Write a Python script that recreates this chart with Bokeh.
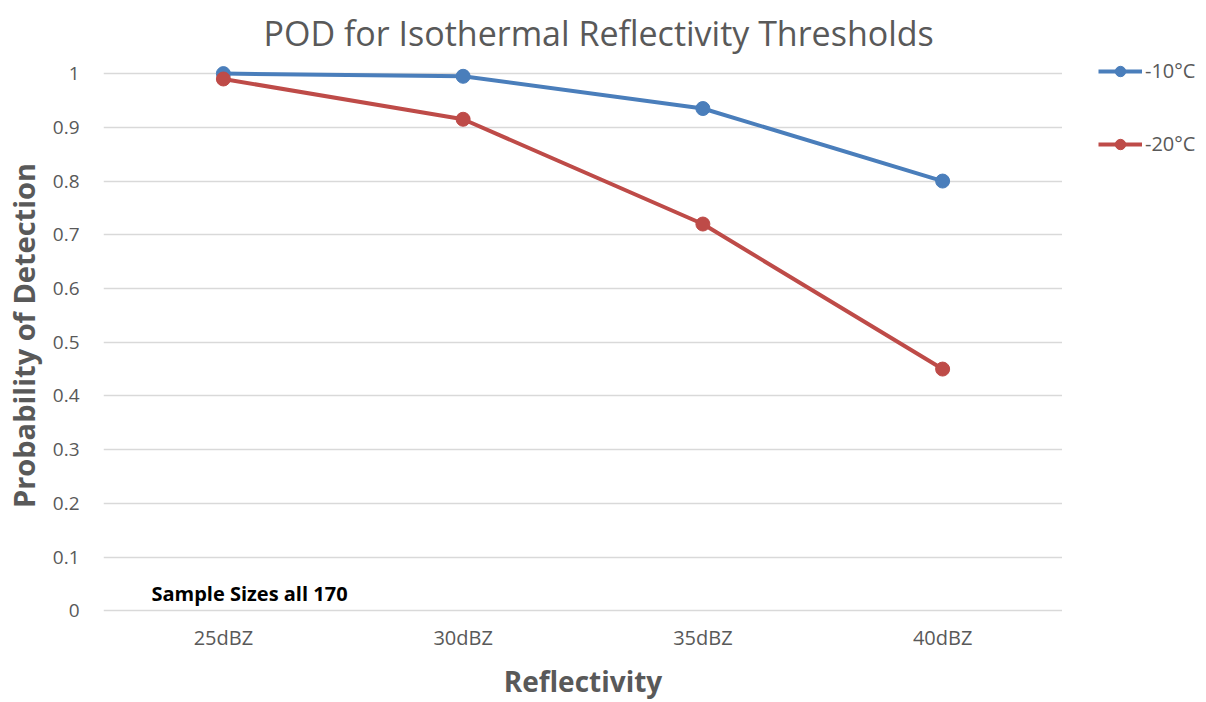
from bokeh.plotting import figure
from bokeh.layouts import row
from bokeh.models import FactorRange, Range1d, Legend, LegendItem, Label, FixedTicker
from bokeh.embed import file_html
from bokeh.resources import INLINE

categories = ["25dBZ", "30dBZ", "35dBZ", "40dBZ"]
pod_minus10 = [1.0, 0.995, 0.935, 0.80]
pod_minus20 = [0.99, 0.915, 0.72, 0.45]
series_names = ["-10°C", "-20°C"]
y_ticks = [0, 0.1, 0.2, 0.3, 0.4, 0.5, 0.6, 0.7, 0.8, 0.9, 1.0]

FONT = "Open Sans"
GRAY = "#595959"
BLUE = "#4A7EBB"
RED = "#BE4B48"

p = figure(width=1062, height=702, output_backend="svg", toolbar_location=None,
           x_range=FactorRange(*categories, range_padding=0),
           y_range=Range1d(-0.005, 1.03),
           min_border_left=102, min_border_right=0, min_border_top=57, min_border_bottom=89)
p.outline_line_color = None

p.title.text = "POD for Isothermal Reflectivity Thresholds"
p.title.align = "left"
p.title.offset = 160
p.title.standoff = 0
p.title.vertical_align = "top"
p.title.text_font = FONT
p.title.text_font_size = "34px"
p.title.text_font_style = "normal"
p.title.text_color = GRAY

p.xgrid.grid_line_color = None
p.ygrid.grid_line_color = "#D9D9D9"
p.ygrid.grid_line_width = 1.5
p.yaxis.ticker = FixedTicker(ticks=y_ticks)
p.yaxis.major_label_overrides = {0: "0", 1.0: "1"}
for ax in (p.xaxis[0], p.yaxis[0]):
    ax.axis_line_color = None
    ax.major_tick_line_color = None
    ax.minor_tick_line_color = None
    ax.major_tick_out = 0
    ax.major_tick_in = 0
    ax.minor_tick_out = 0
    ax.major_label_text_font = FONT
    ax.major_label_text_font_size = "19px"
    ax.major_label_text_color = GRAY
    ax.axis_label_text_font = FONT
    ax.axis_label_text_font_size = "28px"
    ax.axis_label_text_font_style = "bold"
    ax.axis_label_text_color = GRAY
p.xaxis.major_label_text_font_size = "20px"
p.yaxis.axis_label_text_font_size = "29px"
p.xaxis.axis_label = "Reflectivity"
p.yaxis.axis_label = "Probability of Detection"
p.xaxis.major_label_standoff = 10
p.xaxis.axis_label_standoff = 8
p.yaxis.major_label_standoff = 24
p.yaxis.axis_label_standoff = 7

l1 = p.line(categories, pod_minus10, line_color=BLUE, line_width=4)
c1 = p.scatter(categories, pod_minus10, size=14, fill_color=BLUE, line_color=BLUE)
l2 = p.line(categories, pod_minus20, line_color=RED, line_width=4)
c2 = p.scatter(categories, pod_minus20, size=14, fill_color=RED, line_color=RED)

p.add_layout(Label(x=0.2, y=0.032, text="Sample Sizes all 170", text_font=FONT,
                   text_font_size="20px", text_font_style="bold", text_color="black",
                   text_baseline="middle"))

# legend lives in a narrow companion figure to the right of the plot;
# its renderers carry the same series but lie outside that figure's visible range
lg = figure(width=144, height=702, output_backend="svg", toolbar_location=None,
            x_range=FactorRange(*categories), y_range=Range1d(5, 6),
            x_axis_location=None, y_axis_location=None,
            min_border_left=36, min_border_right=0, min_border_top=7, min_border_bottom=0)
lg.outline_line_color = None
lg.grid.grid_line_color = None
k1 = lg.line(categories, pod_minus10, line_color=BLUE, line_width=4)
k1m = lg.scatter(categories, pod_minus10, size=14, fill_color=BLUE, line_color=BLUE)
k2 = lg.line(categories, pod_minus20, line_color=RED, line_width=4)
k2m = lg.scatter(categories, pod_minus20, size=14, fill_color=RED, line_color=RED)
legend = Legend(items=[LegendItem(label=series_names[0], renderers=[k1, k1m]),
                       LegendItem(label=series_names[1], renderers=[k2, k2m])],
                location="top_left", orientation="vertical",
                label_text_font=FONT, label_text_font_size="20px", label_text_color=GRAY,
                glyph_width=44, glyph_height=26, label_height=26, label_standoff=3,
                spacing=46, padding=0, margin=0,
                border_line_color=None, background_fill_alpha=0)
lg.add_layout(legend)

layout = row(p, lg, spacing=0)
open("out.html", "w").write(file_html(layout, INLINE))
